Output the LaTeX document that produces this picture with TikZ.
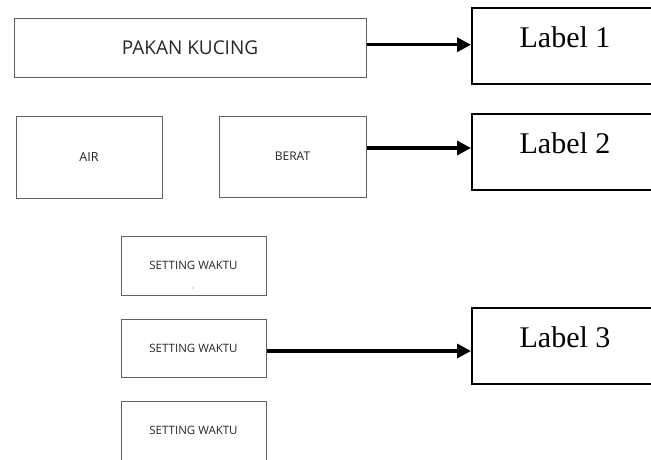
\documentclass[tikz,border=0pt]{standalone}
\usepackage{fontspec}
\setmainfont{Liberation Serif}
\newfontfamily\boxfont{Open Sans}
\usetikzlibrary{arrows.meta}
\begin{document}
\begin{tikzpicture}[x=1pt,y=-1pt,
  graybox/.style={draw=black!62, line width=1pt, rectangle, inner sep=0pt,
    font=\boxfont, text=black!85},
  lblbox/.style={draw=black, line width=2pt, rectangle, inner sep=0pt,
    minimum width=186pt, minimum height=76pt, font=\fontsize{30}{30}\selectfont,
    text height=22pt, text depth=20pt},
  conn/.style={line width=3.3pt, -{Triangle[length=14pt,width=14pt]}}]
\useasboundingbox (0,0) rectangle (651,459);
% left boxes
\node[graybox, minimum width=352pt, minimum height=58.5pt, font=\boxfont\fontsize{19}{19}\selectfont] (pk) at (190,47.75) {PAKAN KUCING};
\node[graybox, minimum width=146pt, minimum height=82pt, font=\boxfont\fontsize{12.5}{12.5}\selectfont] (air) at (89,157) {AIR};
\node[graybox, minimum width=147pt, minimum height=81pt, font=\boxfont\fontsize{12}{12}\selectfont] (berat) at (292.5,156.5) {BERAT};
\node[graybox, minimum width=145pt, minimum height=59pt, font=\boxfont\fontsize{11.5}{11.5}\selectfont] (s1) at (193.5,265.5) {SETTING WAKTU};
\node[graybox, minimum width=145pt, minimum height=58pt, font=\boxfont\fontsize{11.5}{11.5}\selectfont] (s2) at (193.5,348) {SETTING WAKTU};
\node[graybox, minimum width=145pt, minimum height=59pt, font=\boxfont\fontsize{11.5}{11.5}\selectfont] (s3) at (193.5,430.5) {SETTING WAKTU};
\fill[black!55] (193,288) circle (0.7pt);
% label boxes
\node[lblbox] (l1) at (565,46) {Label 1};
\node[lblbox] (l2) at (565,152) {Label 2};
\node[lblbox] (l3) at (565,346) {Label 3};
% connectors
\draw[conn] ([yshift=3pt]pk.east) -- ([yshift=3pt]pk.east -| l1.west);
\draw[conn] ([yshift=8.5pt]berat.east) -- ([yshift=8.5pt]berat.east -| l2.west);
\draw[conn] ([yshift=-3pt]s2.east) -- ([yshift=-3pt]s2.east -| l3.west);
\end{tikzpicture}
\end{document}
